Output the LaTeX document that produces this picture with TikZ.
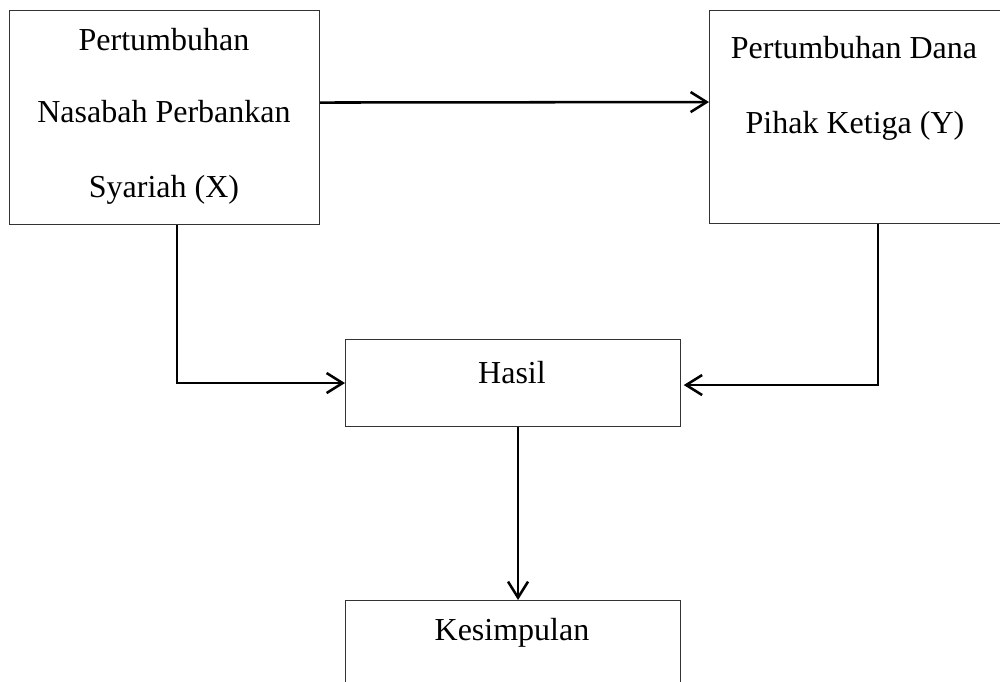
\documentclass[tikz,border=0pt]{standalone}
\usepackage{fontspec}
\setmainfont{Liberation Serif}
\usetikzlibrary{arrows.meta}
\begin{document}
\begin{tikzpicture}[x=0.75pt,y=-0.75pt,
  box/.style={draw=black!80, line width=0.8pt, anchor=north west, inner sep=0pt},
  lbl/.style={anchor=base, inner sep=0pt, font=\fontsize{24}{28}\selectfont},
  conn/.style={line width=1.9pt, -{Straight Barb[length=12pt,width=15pt,line width=1.9pt]}},
  plain/.style={line width=1.9pt}]
\useasboundingbox (0,0) rectangle (1000,682);
\clip (0,0) rectangle (1000,682);
% boxes
\node[box, minimum width=232.5pt, minimum height=160.5pt] (X) at (9,10) {};
\node[box, minimum width=232.5pt, minimum height=159.75pt] (Y) at (709,10) {};
\node[box, minimum width=251.25pt, minimum height=65.25pt] (H) at (345,339) {};
\node[box, minimum width=251.25pt, minimum height=90pt] (K) at (345,600) {};
% texts
\node[lbl] (x1) at (164,50) {Pertumbuhan};
\node[lbl] (x2) at (164,122) {Nasabah Perbankan};
\node[lbl] (x3) at (164,197) {Syariah (X)};
\node[lbl] (y1) at (854,58) {Pertumbuhan Dana};
\node[lbl] (y2) at (855,133) {Pihak Ketiga (Y)};
\node[lbl] (h1) at (512,383) {Hasil};
\node[lbl] (k1) at (512,640) {Kesimpulan};
% connectors
\draw[conn] ([yshift=11.25pt]X.east) -- ([yshift=11.25pt]Y.west);
\draw[conn] ([xshift=126pt]X.south west) |- (H.west);
\draw[conn, shorten >=2pt] ([xshift=126.75pt]Y.south west) |- ([yshift=-1.5pt]H.east);
\draw[conn] ([xshift=3.75pt]H.south) -- ([xshift=3.75pt]K.north);
\end{tikzpicture}
\end{document}
